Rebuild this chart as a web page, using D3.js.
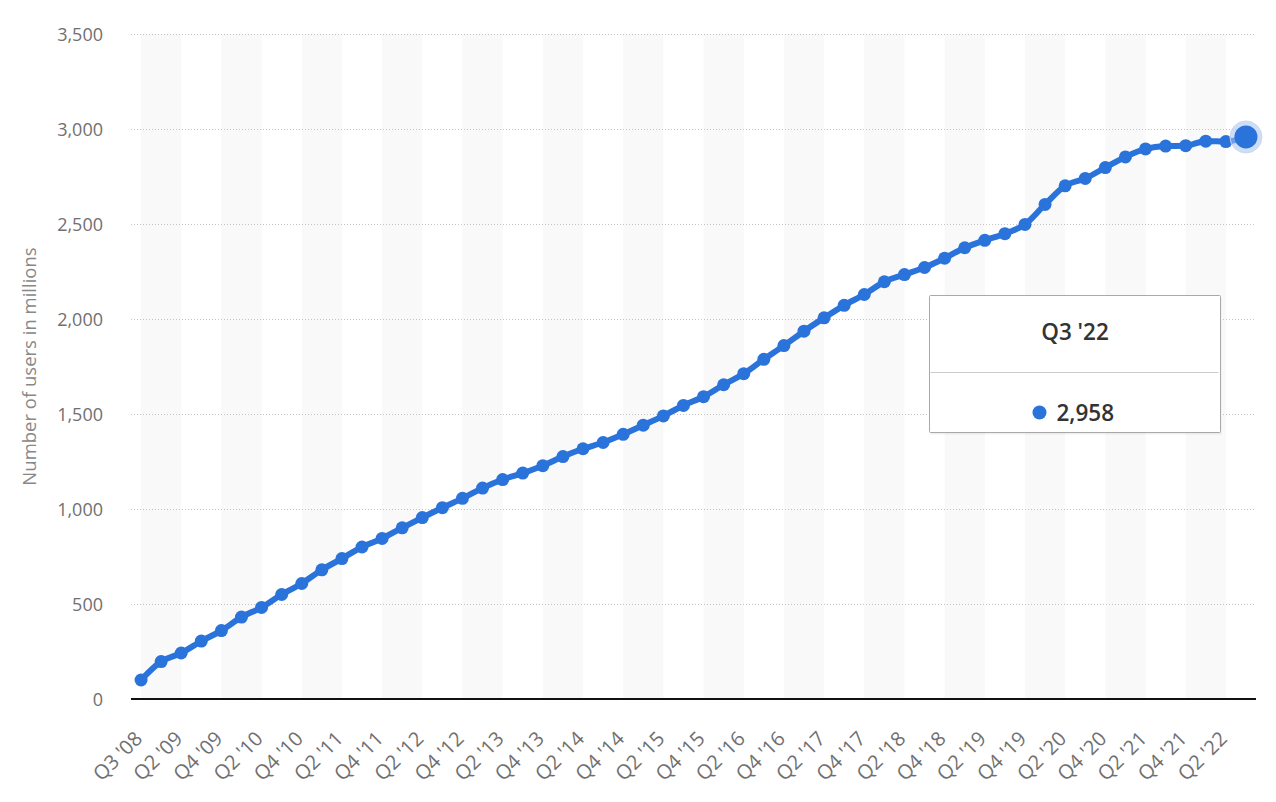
<!DOCTYPE html>
<html>
<head>
<meta charset="utf-8">
<script src="https://cdn.jsdelivr.net/npm/d3@7"></script>
<style>
  html, body { margin: 0; padding: 0; background: #fff; }
  svg { display: block; font-family: "Open Sans", "Noto Sans", sans-serif; }
</style>
</head>
<body>
<svg id="chart" width="1276" height="802"></svg>
<script>
const categories = ["Q3 '08","Q1 '09","Q2 '09","Q3 '09","Q4 '09","Q1 '10","Q2 '10","Q3 '10","Q4 '10",
  "Q1 '11","Q2 '11","Q3 '11","Q4 '11","Q1 '12","Q2 '12","Q3 '12","Q4 '12",
  "Q1 '13","Q2 '13","Q3 '13","Q4 '13","Q1 '14","Q2 '14","Q3 '14","Q4 '14",
  "Q1 '15","Q2 '15","Q3 '15","Q4 '15","Q1 '16","Q2 '16","Q3 '16","Q4 '16",
  "Q1 '17","Q2 '17","Q3 '17","Q4 '17","Q1 '18","Q2 '18","Q3 '18","Q4 '18",
  "Q1 '19","Q2 '19","Q3 '19","Q4 '19","Q1 '20","Q2 '20","Q3 '20","Q4 '20",
  "Q1 '21","Q2 '21","Q3 '21","Q4 '21","Q1 '22","Q2 '22","Q3 '22"];
const users = [100,197,242,305,360,431,482,550,608,
  680,739,800,845,901,955,1007,1056,
  1110,1155,1189,1228,1276,1317,1350,1393,
  1441,1490,1545,1591,1654,1712,1788,1860,
  1936,2006,2072,2129,2196,2234,2271,2320,
  2375,2414,2449,2498,2603,2701,2740,2797,
  2853,2895,2910,2912,2936,2934,2958];
const yTicks = [0,500,1000,1500,2000,2500,3000,3500];
const yTitle = "Number of users in millions";
const tooltipLabel = "Q3 '22";

const svg = d3.select("#chart");
const pLeft = 131, pRight = 1256, pTop = 34, pBottom = 699;
const blue = "#2a73db";

const x = d3.scalePoint().domain(d3.range(categories.length)).range([pLeft, pRight]).padding(0.5);
const y = d3.scaleLinear().domain([0, 3500]).range([pBottom, pTop]);
const fmt = d3.format(",");

// alternating bands
const bandStarts = d3.range(0, categories.length - 2, 4);
svg.append("g").selectAll("rect").data(bandStarts).join("rect")
  .attr("x", d => x(d)).attr("width", d => x(d + 2) - x(d))
  .attr("y", pTop).attr("height", pBottom - pTop)
  .attr("fill", "#f9f9f9");

// gridlines
svg.append("g").selectAll("line").data(yTicks.filter(d => d > 0)).join("line")
  .attr("x1", pLeft).attr("x2", pRight)
  .attr("y1", d => y(d) + 0.5).attr("y2", d => y(d) + 0.5)
  .attr("stroke", "#c4c4c4").attr("stroke-dasharray", "1,2").attr("stroke-width", 1);

// y axis labels
const yAxis = d3.axisLeft(y).tickValues(yTicks).tickFormat(fmt).tickSize(0).tickPadding(0);
const yg = svg.append("g").attr("transform", `translate(103,0)`).call(yAxis);
yg.attr("font-size", null).attr("font-family", null);
yg.select(".domain").remove();
yg.selectAll("text").attr("fill", "#707070").style("font-size", "18px").attr("dy", "0.35em");

// x axis
const labelIdx = d3.range(0, categories.length, 2);
const xAxis = d3.axisBottom(x).tickValues(labelIdx).tickFormat(i => categories[i]).tickSize(0).tickPadding(0);
const xg = svg.append("g").attr("transform", `translate(0,${pBottom})`).call(xAxis);
xg.attr("font-size", null).attr("font-family", null);
xg.select(".domain").remove();
xg.selectAll("text")
  .attr("fill", "#707070").style("font-size", "20px")
  .attr("text-anchor", "end")
  .attr("dy", null).attr("y", 0)
  .attr("transform", "translate(2,41) rotate(-45)");

svg.append("line").attr("x1", pLeft).attr("x2", pRight)
  .attr("y1", pBottom).attr("y2", pBottom).attr("stroke", "#111").attr("stroke-width", 2);

// y title
svg.append("text").attr("transform", `translate(36,${(pTop + pBottom) / 2}) rotate(-90)`)
  .attr("text-anchor", "middle").attr("fill", "#888").style("font-size", "18.5px")
  .text(yTitle);

// line
const line = d3.line().x((d, i) => x(i)).y(d => y(d)).curve(d3.curveMonotoneX);
svg.append("path").datum(users).attr("d", line)
  .attr("fill", "none").attr("stroke", blue).attr("stroke-width", 6)
  .attr("stroke-linejoin", "round").attr("stroke-linecap", "round");

svg.append("g").selectAll("circle").data(users.slice(0, -1)).join("circle")
  .attr("cx", (d, i) => x(i)).attr("cy", d => y(d)).attr("r", 6.5).attr("fill", blue);

const li = users.length - 1;
svg.append("circle").attr("cx", x(li)).attr("cy", y(users[li])).attr("r", 16)
  .attr("fill", "#a8c2ef").attr("fill-opacity", 0.55)
  .attr("stroke", "#c8d8f4").attr("stroke-width", 1);
svg.append("circle").attr("cx", x(li)).attr("cy", y(users[li])).attr("r", 11.5).attr("fill", blue);

// tooltip
const tt = svg.append("g").attr("transform", "translate(929.5,295.5)");
tt.append("rect").attr("x", 1).attr("y", 2).attr("width", 291).attr("height", 137)
  .attr("fill", "#000").attr("opacity", 0.06);
tt.append("rect").attr("width", 291).attr("height", 137).attr("fill", "#fff")
  .attr("stroke", "#a9a9a9").attr("stroke-width", 1).attr("rx", 1);
tt.append("line").attr("x1", 1).attr("x2", 289).attr("y1", 77).attr("y2", 77)
  .attr("stroke", "#ccc");
tt.append("text").attr("x", 145.5).attr("y", 44).attr("text-anchor", "middle")
  .attr("fill", "#333").style("font-size", "22.5px").style("font-weight", "600")
  .text(tooltipLabel);
tt.append("circle").attr("cx", 110).attr("cy", 117).attr("r", 7).attr("fill", blue);
tt.append("text").attr("x", 127).attr("y", 125).attr("fill", "#333")
  .style("font-size", "22.5px").style("font-weight", "600").text(fmt(users[li]));
</script>
</body>
</html>
